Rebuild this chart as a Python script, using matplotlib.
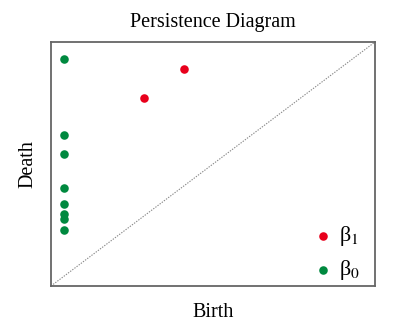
import matplotlib
matplotlib.use("Agg")
import matplotlib.pyplot as plt

plt.rcParams['font.family'] = ['Liberation Serif', 'DejaVu Serif']
plt.rcParams['mathtext.fontset'] = 'stix'

# birth/death pairs per homology dimension
b0_birth = [0.04, 0.04, 0.04, 0.04, 0.04, 0.04, 0.04, 0.04]
b0_death = [0.93, 0.62, 0.54, 0.40, 0.335, 0.295, 0.273, 0.231]
b1_birth = [0.41, 0.286]
b1_death = [0.888, 0.769]

fig = plt.figure(figsize=(4.18, 3.32), dpi=100)
ax = fig.add_axes([51 / 418, 46 / 332, 324 / 418, 244 / 332])

ax.plot([0, 1], [0, 1], color='#888888', lw=0.8, ls=(0, (1.2, 1.2)), zorder=1)
ax.scatter(b1_birth, b1_death, s=38, color='#e8001c', lw=0, label=r'β$_1$', zorder=3)
ax.scatter(b0_birth, b0_death, s=38, color='#00893f', lw=0, label=r'β$_0$', zorder=3)

ax.set_xlim(0, 1)
ax.set_ylim(0, 1)
ax.set_xticks([])
ax.set_yticks([])
for sp in ax.spines.values():
    sp.set_color('#666666')
    sp.set_linewidth(1.3)

ax.set_title('Persistence Diagram', fontsize=14.5, pad=11)
ax.set_xlabel('Birth', fontsize=14.5, labelpad=12)
ax.set_ylabel('Death', fontsize=14.5, labelpad=10)

ax.legend(loc='lower right', bbox_to_anchor=(0.995, -0.04), frameon=False, fontsize=16,
          handlelength=1.0, handletextpad=0.2, labelspacing=0.45, borderaxespad=0.2)

fig.savefig('out.png', dpi=100)
